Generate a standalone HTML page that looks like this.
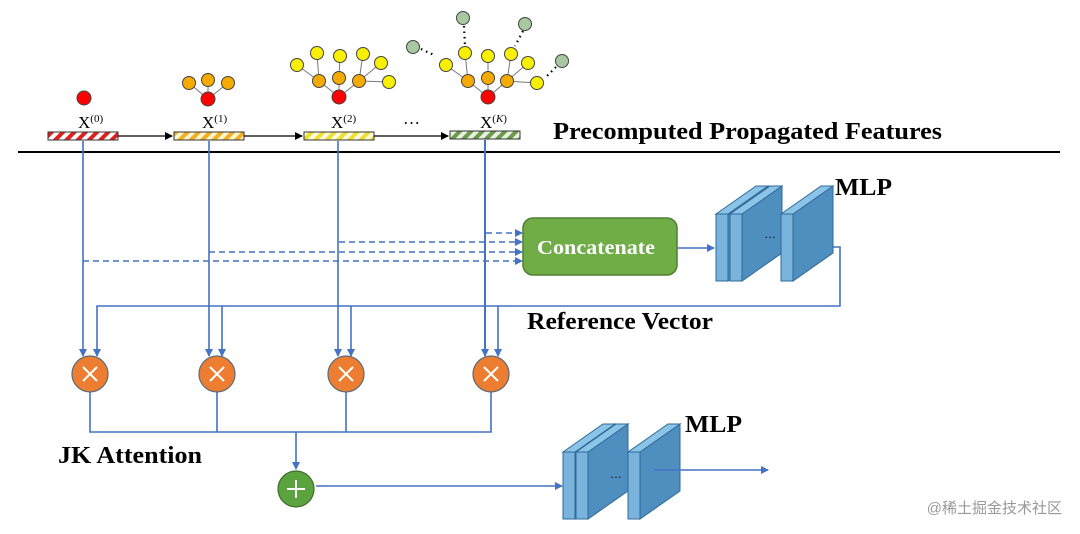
<!DOCTYPE html>
<html><head><meta charset="utf-8"><style>
html,body{margin:0;padding:0;background:#fff;}
svg{display:block;}
.b{font-family:"Liberation Serif",serif;font-weight:bold;}
</style></head><body>
<svg width="1080" height="534" viewBox="0 0 1080 534" xmlns="http://www.w3.org/2000/svg">
<defs>
<pattern id="pr" width="8" height="8" patternUnits="userSpaceOnUse" patternTransform="rotate(45)"><rect width="8" height="8" fill="#fff"/><rect width="4" height="8" fill="#e02020"/></pattern>
<pattern id="po" width="8" height="8" patternUnits="userSpaceOnUse" patternTransform="rotate(45)"><rect width="8" height="8" fill="#fff6d0"/><rect width="4" height="8" fill="#f2b020"/></pattern>
<pattern id="py" width="8" height="8" patternUnits="userSpaceOnUse" patternTransform="rotate(45)"><rect width="8" height="8" fill="#fffbe0"/><rect width="4" height="8" fill="#eee030"/></pattern>
<pattern id="pg" width="8" height="8" patternUnits="userSpaceOnUse" patternTransform="rotate(45)"><rect width="8" height="8" fill="#e8f0e0"/><rect width="4" height="8" fill="#6a9a4a"/></pattern>
<marker id="a" markerWidth="8" markerHeight="8" refX="7" refY="4" orient="auto" markerUnits="userSpaceOnUse"><path d="M0,0 L8,4 L0,8 Z" fill="#4472c4"/></marker>
<marker id="k" markerWidth="8" markerHeight="8" refX="7" refY="4" orient="auto" markerUnits="userSpaceOnUse"><path d="M0,0 L8,4 L0,8 Z" fill="#000"/></marker>
<g id="slab">
<polygon points="12,0 52,-28 52,39 12,67" fill="#4f8fc0" stroke="#2e6a9a"/>
<polygon points="0,0 40,-28 52,-28 12,0" fill="#8cc4e8" stroke="#2e6a9a"/>
<rect x="0" y="0" width="12" height="67" fill="#7ab4dc" stroke="#2e6a9a"/>
</g>
</defs>

<g stroke="#777" stroke-width="1">
<line x1="208" y1="99" x2="189" y2="83"/><line x1="208" y1="99" x2="208" y2="80"/><line x1="208" y1="99" x2="228" y2="83"/>
<line x1="339" y1="97" x2="319" y2="81"/><line x1="339" y1="97" x2="339" y2="78"/><line x1="339" y1="97" x2="359" y2="81"/>
<line x1="319" y1="81" x2="297" y2="65"/><line x1="319" y1="81" x2="317" y2="53"/><line x1="339" y1="78" x2="340" y2="56"/><line x1="359" y1="81" x2="363" y2="54"/><line x1="359" y1="81" x2="381" y2="63"/><line x1="359" y1="81" x2="389" y2="82"/>
<line x1="488" y1="97" x2="468" y2="81"/><line x1="488" y1="97" x2="488" y2="78"/><line x1="488" y1="97" x2="507" y2="81"/>
<line x1="468" y1="81" x2="446" y2="65"/><line x1="468" y1="81" x2="465" y2="53"/><line x1="488" y1="78" x2="488" y2="56"/><line x1="507" y1="81" x2="511" y2="54"/><line x1="507" y1="81" x2="528" y2="63"/><line x1="507" y1="81" x2="537" y2="83"/>
</g>
<g stroke="#000" stroke-width="2.2" stroke-dasharray="1.5,4" fill="none">
<line x1="421" y1="49" x2="436" y2="56"/><line x1="464" y1="26" x2="465" y2="46"/><line x1="523" y1="31" x2="515" y2="46"/><line x1="556" y1="67" x2="546" y2="77"/>
</g>
<g stroke="#444" stroke-width="1">
<circle cx="84" cy="98" r="7" fill="#f00"/>
<circle cx="208" cy="99" r="7" fill="#f00"/>
<circle cx="189" cy="83" r="6.5" fill="#f5aa00"/><circle cx="208" cy="80" r="6.5" fill="#f5aa00"/><circle cx="228" cy="83" r="6.5" fill="#f5aa00"/>
<circle cx="339" cy="97" r="7" fill="#f00"/>
<circle cx="319" cy="81" r="6.5" fill="#f5aa00"/><circle cx="339" cy="78" r="6.5" fill="#f5aa00"/><circle cx="359" cy="81" r="6.5" fill="#f5aa00"/>
<circle cx="297" cy="65" r="6.5" fill="#f8f000"/><circle cx="317" cy="53" r="6.5" fill="#f8f000"/><circle cx="340" cy="56" r="6.5" fill="#f8f000"/><circle cx="363" cy="54" r="6.5" fill="#f8f000"/><circle cx="381" cy="63" r="6.5" fill="#f8f000"/><circle cx="389" cy="82" r="6.5" fill="#f8f000"/>
<circle cx="488" cy="97" r="7" fill="#f00"/>
<circle cx="468" cy="81" r="6.5" fill="#f5aa00"/><circle cx="488" cy="78" r="6.5" fill="#f5aa00"/><circle cx="507" cy="81" r="6.5" fill="#f5aa00"/>
<circle cx="446" cy="65" r="6.5" fill="#f8f000"/><circle cx="465" cy="53" r="6.5" fill="#f8f000"/><circle cx="488" cy="56" r="6.5" fill="#f8f000"/><circle cx="511" cy="54" r="6.5" fill="#f8f000"/><circle cx="528" cy="63" r="6.5" fill="#f8f000"/><circle cx="537" cy="83" r="6.5" fill="#f8f000"/>
<circle cx="413" cy="47" r="6.5" fill="#a8c8a0"/><circle cx="463" cy="18" r="6.5" fill="#a8c8a0"/><circle cx="525" cy="24" r="6.5" fill="#a8c8a0"/><circle cx="562" cy="61" r="6.5" fill="#a8c8a0"/>
</g>

<g font-family="Liberation Serif,serif" font-size="17">
<text x="78" y="128">X<tspan font-size="11" dy="-6">(0)</tspan></text>
<text x="202" y="128">X<tspan font-size="11" dy="-6">(1)</tspan></text>
<text x="331" y="128">X<tspan font-size="11" dy="-6">(2)</tspan></text>
<text x="403" y="124">…</text>
<text x="480" y="128">X<tspan font-size="11" dy="-6">(<tspan font-style="italic">K</tspan>)</tspan></text>
</g>

<rect x="48" y="132" width="70" height="8" fill="url(#pr)" stroke="#333"/>
<rect x="174" y="132" width="70" height="8" fill="url(#po)" stroke="#333"/>
<rect x="304" y="132" width="70" height="8" fill="url(#py)" stroke="#333"/>
<rect x="450" y="131" width="70" height="8" fill="url(#pg)" stroke="#333"/>
<g stroke="#000" stroke-width="1.2">
<line x1="118" y1="136" x2="172" y2="136" marker-end="url(#k)"/>
<line x1="244" y1="136" x2="302" y2="136" marker-end="url(#k)"/>
<line x1="374" y1="136" x2="448" y2="136" marker-end="url(#k)"/>
</g>
<text x="553" y="139" class="b" font-size="24" textLength="389" lengthAdjust="spacingAndGlyphs">Precomputed Propagated Features</text>
<line x1="18" y1="152" x2="1060" y2="152" stroke="#000" stroke-width="2"/>

<g stroke="#4472c4" stroke-width="1.6" fill="none">
<line x1="83" y1="141" x2="83" y2="356" marker-end="url(#a)"/>
<line x1="209" y1="141" x2="209" y2="356" marker-end="url(#a)"/>
<line x1="338" y1="141" x2="338" y2="356" marker-end="url(#a)"/>
<line x1="485" y1="140" x2="485" y2="356" marker-end="url(#a)" stroke-width="2"/>
<polyline points="820,247 840,247 840,306 97,306 97,356" marker-end="url(#a)"/>
<line x1="222" y1="306" x2="222" y2="356" marker-end="url(#a)"/>
<line x1="351" y1="306" x2="351" y2="356" marker-end="url(#a)"/>
<line x1="498" y1="306" x2="498" y2="356" marker-end="url(#a)"/>
<g stroke-dasharray="6,4">
<line x1="486" y1="233" x2="522" y2="233" marker-end="url(#a)"/>
<line x1="339" y1="242" x2="522" y2="242" marker-end="url(#a)"/>
<line x1="209" y1="252" x2="522" y2="252" marker-end="url(#a)"/>
<line x1="83" y1="261" x2="522" y2="261" marker-end="url(#a)"/>
</g>
<line x1="677" y1="248" x2="714" y2="248" marker-end="url(#a)"/>
<polyline points="90,392 90,432 491,432 491,392"/>
<line x1="217" y1="392" x2="217" y2="432"/>
<line x1="346" y1="392" x2="346" y2="432"/>
<line x1="296" y1="432" x2="296" y2="469" marker-end="url(#a)"/>
<line x1="316" y1="486" x2="562" y2="486" marker-end="url(#a)"/>
</g>

<rect x="523" y="218" width="154" height="57" rx="10" fill="#70ad47" stroke="#507e32" stroke-width="1.5"/>
<text x="537" y="254" class="b" font-size="20" fill="#fff" textLength="118" lengthAdjust="spacingAndGlyphs">Concatenate</text>

<use href="#slab" x="716" y="214"/>
<use href="#slab" x="730" y="214"/>
<text x="764" y="238" font-size="12" font-family="Liberation Sans,sans-serif">…</text>
<use href="#slab" x="781" y="214"/>
<text x="835" y="195" class="b" font-size="24" textLength="57" lengthAdjust="spacingAndGlyphs">MLP</text>
<text x="527" y="329" class="b" font-size="24" textLength="186" lengthAdjust="spacingAndGlyphs">Reference Vector</text>

<g fill="#ed7d31" stroke="#5a6a7a" stroke-width="1.2">
<circle cx="90" cy="374" r="18"/><circle cx="217" cy="374" r="18"/><circle cx="346" cy="374" r="18"/><circle cx="491" cy="374" r="18"/>
</g>
<g stroke="#fff" stroke-width="2">
<path d="M83,367 L97,381 M97,367 L83,381"/>
<path d="M210,367 L224,381 M224,367 L210,381"/>
<path d="M339,367 L353,381 M353,367 L339,381"/>
<path d="M484,367 L498,381 M498,367 L484,381"/>
</g>
<text x="58" y="463" class="b" font-size="24" textLength="144" lengthAdjust="spacingAndGlyphs">JK Attention</text>

<circle cx="296" cy="489" r="18" fill="#5aa33e" stroke="#3d6e2a" stroke-width="1.2"/>
<path d="M287,489 H305 M296,480 V498" stroke="#fff" stroke-width="2"/>

<use href="#slab" x="563" y="452"/>
<use href="#slab" x="576" y="452"/>
<text x="610" y="478" font-size="12" font-family="Liberation Sans,sans-serif">…</text>
<use href="#slab" x="628" y="452"/>
<line x1="654" y1="470" x2="768" y2="470" stroke="#4472c4" stroke-width="1.6" marker-end="url(#a)"/>
<text x="685" y="432" class="b" font-size="24" textLength="57" lengthAdjust="spacingAndGlyphs">MLP</text>

<text x="1062" y="513" font-family="Liberation Sans,Noto Sans CJK SC,sans-serif" font-size="15" fill="#999" text-anchor="end">@稀土掘金技术社区</text>
</svg>
</body></html>
